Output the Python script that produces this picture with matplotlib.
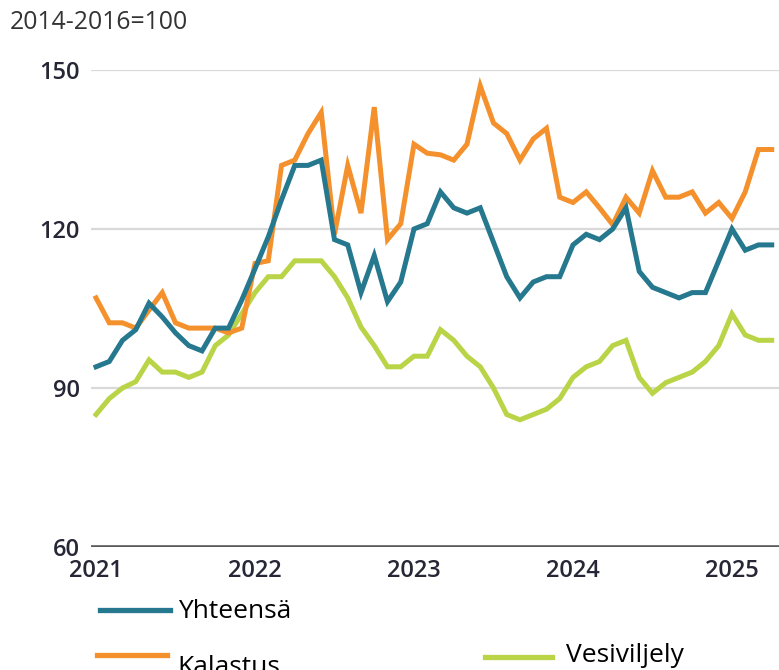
import numpy as np
import matplotlib
matplotlib.use("Agg")
import matplotlib.pyplot as plt
from matplotlib.lines import Line2D

# Monthly index values, Jan 2021 - Apr 2025 (2014-2016=100)
yhteensa = [94, 95, 99, 101, 106, 103.4, 100.4, 98, 97, 101.3, 101.3, 106.6,
            112.5, 118.5, 125.5, 132, 132, 133, 118, 117, 108, 115, 106.3, 110,
            120, 121, 127, 124, 123, 124, 117.5, 111, 107, 110, 111, 111,
            117, 119, 118, 120, 124, 112, 109, 108, 107, 108, 108, 114,
            120, 116, 117, 117]
kalastus = [107, 102.3, 102.3, 101.3, 104.7, 108, 102.3, 101.3, 101.3, 101.3, 100.4, 101.3,
            113.5, 114, 132, 133, 138, 142, 119, 132, 123, 143, 118, 121,
            136, 134.3, 134, 133, 136, 147, 140, 138, 133, 137, 139, 126,
            125, 127, 124, 120.8, 126, 123, 131, 126, 126, 127, 123, 125,
            122, 127, 135, 135]
vesiviljely = [85, 88, 90, 91.2, 95.3, 93, 93, 92, 93, 98, 100, 104,
               108, 111, 111, 114, 114, 114, 111, 107, 101.5, 98, 94, 94,
               96, 96, 101, 99, 96, 94, 90, 85, 84, 85, 86, 88,
               92, 94, 95, 98, 99, 92, 89, 91, 92, 93, 95, 98,
               104, 100, 99, 99]
years = ['2021', '2022', '2023', '2024', '2025']
y_ticks = [60, 90, 120, 150]

months = np.arange(len(yhteensa))

col_total = '#25788e'
col_fish = '#f4912c'
col_aqua = '#b9d447'
text_col = '#262636'

plt.rcParams['font.family'] = ['Open Sans', 'DejaVu Sans']

fig = plt.figure(figsize=(7.79, 6.70), dpi=100)
ax = fig.add_axes([0.1168, 0.1836, 0.8832, 0.7119])

ax.plot(months, vesiviljely, color=col_aqua, linewidth=3.6, solid_joinstyle='miter', zorder=3)
ax.plot(months, kalastus, color=col_fish, linewidth=3.6, solid_joinstyle='miter', zorder=4)
ax.plot(months, yhteensa, color=col_total, linewidth=3.6, solid_joinstyle='miter', zorder=5)

ax.set_ylim(60, 150)
ax.set_xlim(-0.38, 51.55)
ax.set_yticks(y_ticks)
ax.set_xticks(np.arange(len(years)) * 12)
ax.set_xticklabels(years)
ax.grid(axis='y', color='#d9d9d9', linewidth=1.6)
ax.axhline(60, color='#5a5a5a', linewidth=2.6, zorder=6)
for s in ax.spines.values():
    s.set_visible(False)
ax.tick_params(axis='both', length=0, labelsize=17, labelcolor=text_col)
ax.tick_params(axis='y', pad=8)
ax.tick_params(axis='x', pad=9)
for lab in ax.get_xticklabels() + ax.get_yticklabels():
    lab.set_fontweight('semibold')

fig.text(0.013, 0.966, '2014-2016=100', fontsize=17.8, color='#333333', va='center')

# legend drawn by hand to keep the original's odd placement
fig.add_artist(Line2D([0.128, 0.218], [0.089, 0.089], color=col_total, linewidth=3.8))
fig.text(0.228, 0.087, 'Yhteensä', fontsize=19, color='black', va='center')
fig.add_artist(Line2D([0.125, 0.215], [0.022, 0.022], color=col_fish, linewidth=3.8))
fig.text(0.228, 0.003, 'Kalastus', fontsize=19, color='black', va='center')
fig.add_artist(Line2D([0.622, 0.708], [0.019, 0.019], color=col_aqua, linewidth=3.8))
fig.text(0.727, 0.022, 'Vesiviljely', fontsize=19, color='black', va='center')

fig.savefig('out.png', dpi=100)
